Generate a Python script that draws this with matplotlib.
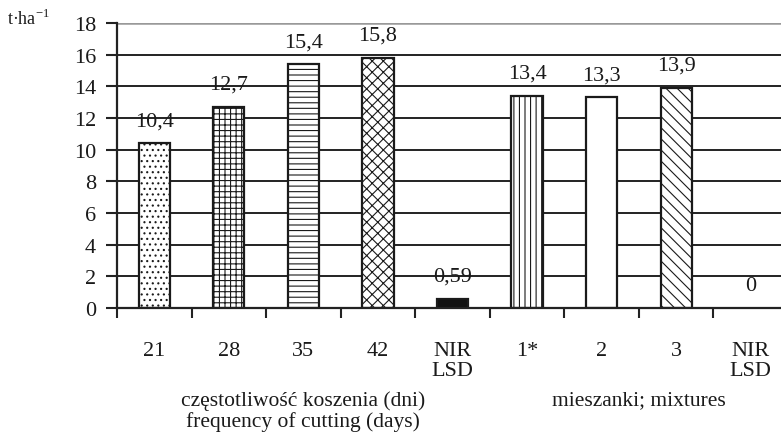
import matplotlib
matplotlib.use("Agg")
import matplotlib.pyplot as plt

plt.rcParams['font.family'] = ['Liberation Serif', 'DejaVu Serif']
plt.rcParams['mathtext.fontset'] = 'custom'
plt.rcParams['mathtext.rm'] = 'Liberation Serif'
plt.rcParams['hatch.linewidth'] = 0.8

categories = ['21', '28', '35', '42', 'NIR\nLSD', '1*', '2', '3', 'NIR\nLSD']
values = [10.4, 12.7, 15.4, 15.8, 0.59, 13.4, 13.3, 13.9, 0.0]
value_labels = ['10,4', '12,7', '15,4', '15,8', '0,59', '13,4', '13,3', '13,9', '0']
hatches = ['...', '+++', '---', 'xxx', None, '|||', None, '\\\\\\', None]
faces = ['white', 'white', 'white', 'white', '#111111', 'white', 'white', 'white', 'white']
group_labels = ['częstotliwość koszenia (dni)\nfrequency of cutting (days)',
                'mieszanki; mixtures']
group_centers = [2.0, 6.5]
yticks = list(range(0, 19, 2))

TXT = '#1a1a1a'

fig = plt.figure(figsize=(7.81, 4.35), dpi=100)
ax = fig.add_axes([117 / 781, 1 - 309 / 435, (788 - 117) / 781, (309 - 24) / 435])

x = list(range(len(categories)))
for xi, v, h, fc in zip(x, values, hatches, faces):
    if v <= 0:
        continue
    ax.bar(xi, v, width=0.42, facecolor=fc, edgecolor='#1a1a1a',
           hatch=h, linewidth=1.6, zorder=3)

for xi, v, lab in zip(x, values, value_labels):
    ax.annotate(lab, (xi, v), xytext=(0, 13), textcoords='offset points',
                ha='center', va='baseline', fontsize=16, color=TXT, zorder=4)

ax.set_xlim(-0.5, len(categories) - 0.5)
ax.set_ylim(0, 18)
ax.set_yticks(yticks)
ax.set_yticklabels([str(t) for t in yticks], fontsize=16, color=TXT)
for t in yticks[1:-1]:
    ax.axhline(t, color='#222222', linewidth=1.4, zorder=1)
ax.axhline(18, color='#999999', linewidth=1.8, zorder=1)

# category boundaries carry the x tick marks, labels sit at the centres
ax.set_xticks([i - 0.5 for i in range(len(categories) + 1)])
ax.set_xticklabels([])
ax.tick_params(axis='x', direction='out', length=7, width=1.5, color='#222222')
ax.tick_params(axis='y', direction='out', length=8, width=1.5, color='#222222', pad=7)

for xi, lab in zip(x, categories):
    ax.annotate(lab, (xi, 0), xytext=(0, -24), textcoords='offset points',
                ha='center', va='top', fontsize=16, color=TXT,
                linespacing=1.05, annotation_clip=False)

for c, lab in zip(group_centers, group_labels):
    ax.annotate(lab, (c, 0), xytext=(0, -59), textcoords='offset points',
                ha='center', va='top', fontsize=15.5, color=TXT,
                linespacing=1.1, annotation_clip=False)

for s in ['top', 'right']:
    ax.spines[s].set_visible(False)
for s in ['left', 'bottom']:
    ax.spines[s].set_linewidth(1.6)
    ax.spines[s].set_color('#222222')
    ax.spines[s].set_zorder(5)

fig.text(7 / 781, 1 - 19 / 435, r't·ha$^{-1}$', fontsize=13, color=TXT,
         ha='left', va='center')

fig.savefig('out.png', dpi=100)
